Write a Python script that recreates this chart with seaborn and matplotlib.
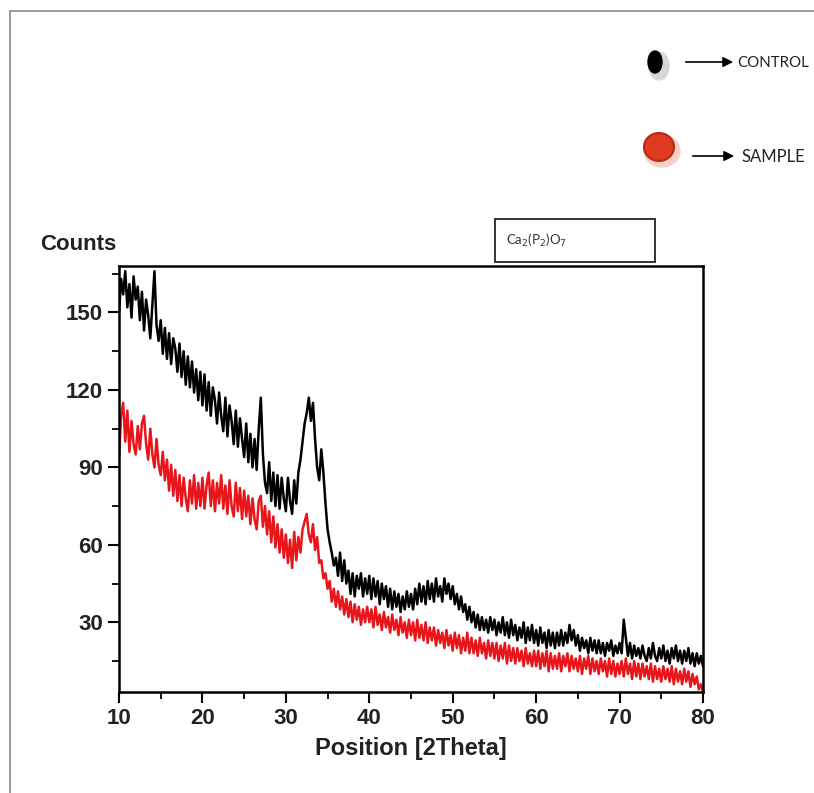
import numpy as np
import pandas as pd
import matplotlib
matplotlib.use("Agg")
import matplotlib.pyplot as plt
from matplotlib.patches import Ellipse, Rectangle, FancyArrowPatch
import seaborn as sns

sns.set_theme(style="white")
plt.rcParams['font.family'] = ['Liberation Sans Narrow', 'Liberation Sans', 'DejaVu Sans']

# 2Theta grid (0.25 degree steps, 10..80)
theta = np.arange(10.0, 80.001, 0.25)

control_counts = [
    150, 163, 157, 166, 152, 161, 148, 164, 155, 160,
    147, 158, 143, 155, 149, 140, 153, 166, 145, 139,
    147, 134, 144, 132, 142, 130, 140, 136, 127, 138,
    125, 135, 122, 133, 121, 131, 119, 128, 116, 127,
    114, 126, 112, 123, 110, 121, 116, 107, 119, 110,
    104, 117, 102, 114, 108, 99, 112, 98, 109, 101,
    94, 107, 92, 103, 90, 101, 89, 105, 117, 95,
    84, 80, 92, 77, 88, 75, 87, 74, 86, 78,
    73, 86, 77, 72, 85, 76, 88, 93, 100, 107,
    111, 117, 108, 115, 101, 90, 85, 97, 88, 76,
    66, 61, 57, 52, 55, 48, 57, 46, 54, 45,
    50, 41, 49, 40, 48, 43, 49, 40, 47, 41,
    48, 39, 47, 40, 46, 37, 45, 39, 44, 36,
    43, 35, 42, 36, 41, 34, 40, 35, 42, 36,
    41, 35, 43, 37, 45, 38, 44, 37, 46, 39,
    45, 38, 47, 40, 44, 38, 47, 41, 45, 39,
    44, 37, 41, 35, 40, 34, 37, 31, 36, 30,
    34, 28, 33, 27, 32, 27, 31, 26, 32, 27,
    31, 25, 30, 26, 32, 25, 30, 24, 31, 25,
    29, 23, 28, 24, 30, 22, 28, 23, 29, 22,
    27, 21, 28, 22, 26, 20, 27, 21, 26, 20,
    26, 21, 27, 21, 26, 22, 29, 23, 27, 21,
    25, 19, 24, 20, 23, 18, 24, 19, 23, 18,
    23, 18, 22, 17, 22, 19, 23, 17, 21, 18,
    22, 18, 31, 24, 17, 22, 16, 21, 17, 20,
    16, 21, 17, 15, 20, 16, 22, 17, 15, 20,
    16, 21, 15, 19, 14, 20, 16, 21, 15, 19,
    14, 19, 15, 20, 14, 18, 13, 18, 14, 17,
    13,
]

sample_counts = [
    94, 110, 115, 100, 112, 96, 108, 99, 95, 106,
    97, 107, 110, 99, 93, 105, 95, 90, 101, 91,
    87, 96, 85, 93, 81, 91, 79, 89, 77, 87,
    75, 86, 78, 73, 85, 76, 87, 74, 84, 75,
    86, 74, 83, 88, 75, 85, 73, 84, 76, 87,
    74, 83, 72, 85, 75, 71, 84, 73, 82, 70,
    81, 71, 79, 68, 78, 70, 66, 77, 79, 67,
    75, 64, 73, 61, 71, 59, 68, 57, 66, 55,
    64, 53, 62, 51, 65, 54, 63, 57, 66, 69,
    72, 64, 61, 68, 58, 63, 53, 54, 47, 49,
    43, 46, 38, 43, 36, 42, 35, 40, 33, 39,
    32, 38, 30, 37, 31, 36, 29, 35, 30, 36,
    30, 35, 28, 36, 29, 33, 27, 34, 28, 32,
    26, 33, 27, 31, 25, 32, 26, 30, 24, 31,
    25, 30, 23, 31, 24, 29, 23, 30, 22, 28,
    23, 28, 21, 27, 22, 26, 20, 27, 21, 25,
    19, 26, 20, 25, 18, 24, 19, 26, 18, 24,
    18, 23, 17, 24, 18, 22, 16, 23, 17, 22,
    16, 22, 15, 21, 16, 22, 14, 21, 15, 20,
    14, 20, 15, 19, 13, 20, 14, 18, 13, 19,
    13, 19, 12, 18, 13, 19, 11, 18, 12, 17,
    12, 18, 11, 17, 13, 18, 11, 17, 12, 16,
    11, 17, 10, 16, 12, 17, 10, 16, 11, 15,
    10, 16, 11, 15, 9, 16, 10, 15, 9, 14,
    10, 15, 9, 16, 10, 14, 8, 15, 9, 14,
    8, 14, 9, 13, 8, 14, 7, 13, 8, 12,
    7, 13, 8, 12, 7, 13, 6, 12, 7, 11,
    6, 12, 7, 11, 5, 10, 6, 9, 4, 6,
    3,
]

series_names = ["CONTROL", "SAMPLE"]
series_colors = {"CONTROL": "#000000", "SAMPLE": "#e8161b"}

df = pd.concat([
    pd.DataFrame({"theta": theta, "counts": control_counts, "series": "CONTROL"}),
    pd.DataFrame({"theta": theta, "counts": sample_counts, "series": "SAMPLE"}),
])

W, H = 814, 793
fig = plt.figure(figsize=(W / 100, H / 100), dpi=100)
fig.patch.set_facecolor("white")

# overlay in pixel coords for decorations
ov = fig.add_axes([0, 0, 1, 1], zorder=0)
ov.set_xlim(0, W)
ov.set_ylim(H, 0)
ov.axis("off")

ax = fig.add_axes([119 / W, 1 - 692 / H, (703 - 119) / W, (692 - 266) / H], zorder=2)
ax.set_facecolor("white")

sns.lineplot(data=df, x="theta", y="counts", hue="series", hue_order=series_names,
             palette=series_colors, linewidth=1.8, legend=False, ax=ax,
             estimator=None, sort=False)

ax.set_xlim(10, 80)
ax.set_ylim(3, 168)
ax.set_xticks([10, 20, 30, 40, 50, 60, 70, 80])
ax.set_xticks(np.arange(15, 80, 10), minor=True)
ax.set_yticks([30, 60, 90, 120, 150])
ax.set_yticks([15, 45, 75, 105, 135, 165], minor=True)
ax.tick_params(axis="both", which="major", direction="out", length=8, width=1.5,
               labelsize=16, bottom=True, left=True, top=False, right=False, color="black")
ax.tick_params(axis="both", which="minor", direction="out", length=5, width=1.3,
               bottom=True, left=True, top=False, right=False, color="black")
for lab in ax.get_xticklabels() + ax.get_yticklabels():
    lab.set_fontweight("bold")
    lab.set_color("#222222")
for sp in ax.spines.values():
    sp.set_visible(True)
    sp.set_color("black")
    sp.set_linewidth(1.8)

ax.set_xlabel("Position [2Theta]", fontsize=17, fontweight="bold", color="#222222", labelpad=6)
ax.set_ylabel("")
ov.text(40, 245, "Counts", fontsize=16, fontweight="bold", color="#222222", ha="left", va="center")

# scan borders
ov.plot([10, 814], [11, 11], color="#8a8a8a", lw=1.2)
ov.plot([10, 10], [11, 793], color="#8a8a8a", lw=1.2)

# compound label box
ov.add_patch(Rectangle((495, 219), 160, 43, fill=False, edgecolor="#333333", lw=1.4))
ov.text(506, 240, r"Ca$_2$(P$_2$)O$_7$", fontsize=9.5, color="#333333", ha="left", va="center",
        family=["Lato", "DejaVu Sans"])

# legend-like markers
ov.add_patch(Ellipse((659, 66), 20, 28, color="#d8d8d8", zorder=1))
ov.add_patch(Ellipse((655, 62), 14, 22, color="black", zorder=2))
ov.add_patch(Ellipse((662, 151), 36, 32, color="#f4d0c8", zorder=1))
ov.add_patch(Ellipse((659, 147), 30, 28, facecolor="#e03a22", edgecolor="#b42a16", lw=1.5, zorder=2))

ov.add_patch(FancyArrowPatch((683, 62), (736, 62), arrowstyle="-|>,head_length=6,head_width=3",
                             color="black", lw=1.2, mutation_scale=1))
ov.add_patch(FancyArrowPatch((690, 156), (737, 156), arrowstyle="-|>,head_length=6,head_width=3",
                             color="black", lw=1.2, mutation_scale=1))
ov.text(737, 63, "CONTROL", fontsize=10.8, color="#222222", ha="left", va="center",
        family=["Lato", "DejaVu Sans"])
ov.text(742, 157, "SAMPLE", fontsize=12, color="#222222", ha="left", va="center",
        family=["Lato", "DejaVu Sans"])

fig.savefig("out.png", dpi=100, facecolor="white")
